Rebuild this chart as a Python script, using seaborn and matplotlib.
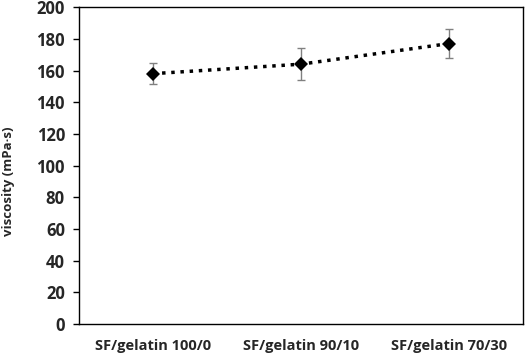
import numpy as np
import pandas as pd
import seaborn as sns
import matplotlib.pyplot as plt

# data
samples = ["SF/gelatin 100/0", "SF/gelatin 90/10", "SF/gelatin 70/30"]
viscosity = [158, 164, 177]
viscosity_err = [6.8, 10, 9]
y_ticks = [0, 20, 40, 60, 80, 100, 120, 140, 160, 180, 200]

df = pd.DataFrame({"sample": samples, "viscosity": viscosity})

sns.set_style("white")
plt.rcParams["font.family"] = ["Open Sans", "DejaVu Sans"]
plt.rcParams["font.weight"] = "bold"

fig = plt.figure(figsize=(5.29, 3.55), dpi=100)
ax = fig.add_axes([0.149, 0.087, 0.840, 0.893])

pos = np.arange(len(samples))
# grey error bars under the markers
ax.errorbar(pos, viscosity, yerr=viscosity_err, fmt="none", ecolor="#808080",
            elinewidth=1, capsize=3, capthick=1, zorder=2)
sns.pointplot(data=df, x="sample", y="viscosity", color="black", markers="D",
              linestyles=":", ax=ax, zorder=3)
for line in ax.lines:
    if line.get_marker() == "D":
        line.set_markersize(7.5)
        line.set_markeredgewidth(0)
        line.set_linewidth(2.5)

ax.set_xlim(-0.5, 2.5)
ax.set_ylim(0, 200)
ax.set_yticks(y_ticks)
ax.set_xlabel("")
ax.set_ylabel("viscosity (mPa·s)", fontsize=9.5, fontweight="bold")
ax.yaxis.set_label_coords(-0.143, 0.45)
ax.tick_params(axis="y", direction="out", length=4, width=1, color="black",
               left=True, labelsize=12, pad=6)
ax.tick_params(axis="x", length=0, labelsize=10.5, pad=11)
for lab in ax.get_xticklabels() + ax.get_yticklabels():
    lab.set_fontweight("bold")
for sp in ax.spines.values():
    sp.set_color("black")
    sp.set_linewidth(1)

plt.savefig("out.png", dpi=100)
